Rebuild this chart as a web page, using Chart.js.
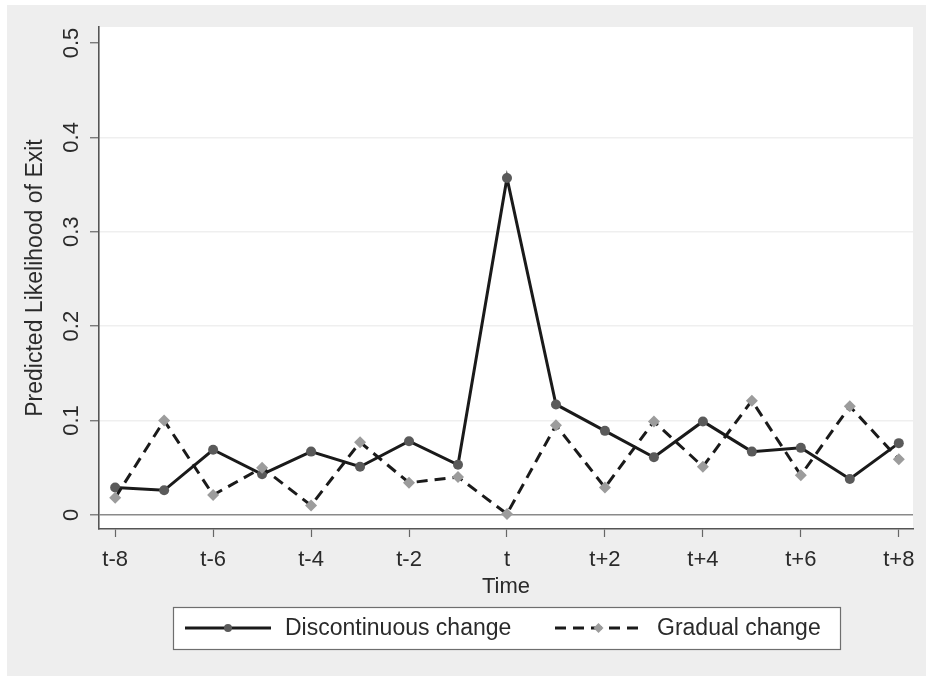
<!DOCTYPE html>
<html>
<head>
<meta charset="utf-8">
<script src="https://cdn.jsdelivr.net/npm/chart.js@4/dist/chart.umd.min.js"></script>
<style>
  html, body { margin: 0; padding: 0; background: #ffffff; }
  #wrap { width: 931px; height: 681px; position: relative; }
</style>
</head>
<body>
<div id="wrap"><canvas id="c" width="931" height="681"></canvas></div>
<script>
// ---- data ----
const categories = ["t-8","t-7","t-6","t-5","t-4","t-3","t-2","t-1","t","t+1","t+2","t+3","t+4","t+5","t+6","t+7","t+8"];
const discontinuous = [0.029,0.026,0.069,0.043,0.067,0.051,0.078,0.053,0.357,0.117,0.089,0.061,0.099,0.067,0.071,0.038,0.076];
const gradual       = [0.018,0.100,0.021,0.050,0.010,0.077,0.034,0.040,0.001,0.095,0.029,0.099,0.051,0.121,0.042,0.115,0.059];
const yTickValues = [0, 0.1, 0.2, 0.3, 0.4, 0.5];
const yTickLabels = ["0", "0.1", "0.2", "0.3", "0.4", "0.5"];
const xTickIndexes = [0, 2, 4, 6, 8, 10, 12, 14, 16];
const seriesNames = ["Discontinuous change", "Gradual change"];
const axisTitles = { x: "Time", y: "Predicted Likelihood of Exit" };

const FONT = "'Liberation Sans', Arial, Helvetica, sans-serif";
Chart.defaults.font.family = FONT;
Chart.defaults.color = '#2a2a2a';

const toPoints = arr => arr.map((v, i) => ({ x: i - 8, y: v }));

const bgPlugin = {
  id: 'bg',
  beforeDraw(chart) {
    const ctx = chart.ctx, a = chart.chartArea;
    ctx.save();
    ctx.fillStyle = '#ffffff';
    ctx.fillRect(0, 0, chart.width, chart.height);
    ctx.fillStyle = '#eeeeee';
    ctx.fillRect(7, 5, 919, 671);
    ctx.fillStyle = '#ffffff';
    ctx.fillRect(a.left, a.top, a.right - a.left, a.bottom - a.top);
    ctx.restore();
  },
  afterDraw(chart) {
    const ctx = chart.ctx;
    const ys = chart.scales.y;
    // rotated y tick labels
    ctx.save();
    ctx.fillStyle = '#2a2a2a';
    ctx.font = '22px ' + FONT;
    ctx.textAlign = 'center';
    ctx.textBaseline = 'middle';
    yTickValues.forEach((v, i) => {
      const py = ys.getPixelForValue(v);
      ctx.save();
      ctx.translate(72, py);
      ctx.rotate(-Math.PI / 2);
      ctx.fillText(yTickLabels[i], 0, 0);
      ctx.restore();
    });
    ctx.restore();

    // legend box
    const ds = chart.data.datasets;
    const bx = 173, by = 607, bw = 667, bh = 42;
    const cy = by + bh / 2;
    ctx.save();
    ctx.fillStyle = '#ffffff';
    ctx.fillRect(bx, by, bw, bh);
    ctx.strokeStyle = '#6e6e6e';
    ctx.lineWidth = 1.2;
    ctx.strokeRect(bx + 0.5, by + 0.5, bw, bh);

    const items = [
      { ds: ds[1], x0: 185, x1: 271, textX: 285 },
      { ds: ds[0], x0: 555, x1: 642, textX: 657 }
    ];
    items.forEach(it => {
      const d = it.ds;
      ctx.save();
      ctx.strokeStyle = d.borderColor;
      ctx.lineWidth = d.borderWidth;
      ctx.setLineDash(d.borderDash || []);
      ctx.beginPath();
      ctx.moveTo(it.x0, cy);
      ctx.lineTo(it.x1, cy);
      ctx.stroke();
      ctx.restore();
      ctx.save();
      ctx.fillStyle = d.pointBackgroundColor;
      ctx.beginPath();
      const mx = (it.x0 + it.x1) / 2;
      if (d.pointStyle === 'rectRot') {
        const r = 5;
        ctx.moveTo(mx, cy - r); ctx.lineTo(mx + r, cy); ctx.lineTo(mx, cy + r); ctx.lineTo(mx - r, cy); ctx.closePath();
      } else {
        ctx.arc(mx, cy, 4, 0, Math.PI * 2);
      }
      ctx.fill();
      ctx.restore();
      ctx.fillStyle = '#2a2a2a';
      ctx.font = '23px ' + FONT;
      ctx.textAlign = 'left';
      ctx.textBaseline = 'middle';
      ctx.fillText(d.label, it.textX, cy + 1);
    });
    ctx.restore();
  }
};

new Chart(document.getElementById('c'), {
  type: 'line',
  data: {
    datasets: [
      {
        label: seriesNames[1],
        data: toPoints(gradual),
        borderColor: '#1a1a1a',
        borderWidth: 3,
        borderDash: [11, 7],
        pointStyle: 'rectRot',
        pointRadius: 6,
        pointBackgroundColor: '#9c9c9c',
        pointBorderWidth: 0,
        tension: 0,
        order: 0
      },
      {
        label: seriesNames[0],
        data: toPoints(discontinuous),
        borderColor: '#1a1a1a',
        borderWidth: 3,
        pointStyle: 'circle',
        pointRadius: 5,
        pointBackgroundColor: '#5a5a5a',
        pointBorderWidth: 0,
        tension: 0,
        order: 1
      }
    ]
  },
  options: {
    responsive: false,
    animation: false,
    events: [],
    layout: { autoPadding: false, padding: { left: 22, top: 27, right: 18, bottom: 81 } },
    plugins: { legend: { display: false }, tooltip: { enabled: false } },
    scales: {
      x: {
        type: 'linear',
        min: -8.33,
        max: 8.29,
        afterBuildTicks(s) { s.ticks = xTickIndexes.map(i => ({ value: i - 8 })); },
        afterFit(s) { s.height = 71; },
        ticks: {
          font: { size: 22 },
          color: '#2a2a2a',
          padding: 10,
          maxRotation: 0,
          callback: v => categories[Math.round(v) + 8]
        },
        grid: { drawOnChartArea: false, tickLength: 8, tickColor: '#666666', tickWidth: 1.2 },
        border: { color: '#555555', width: 1.6 },
        title: { display: true, text: axisTitles.x, font: { size: 22 }, color: '#2a2a2a', padding: { top: 0, bottom: 0 } }
      },
      y: {
        type: 'linear',
        min: -0.015,
        max: 0.517,
        afterBuildTicks(s) { s.ticks = yTickValues.map(v => ({ value: v })); },
        afterFit(s) { s.width = 77; },
        ticks: { display: false },
        grid: {
          drawOnChartArea: true,
          tickLength: 9,
          tickColor: '#666666',
          tickWidth: 1.2,
          color: ctx => {
            const v = ctx.tick ? ctx.tick.value : null;
            if (v === 0) return '#8a8a8a';
            if (v === 0.5) return 'rgba(0,0,0,0)';
            return '#efefef';
          },
          lineWidth: ctx => (ctx.tick && ctx.tick.value === 0) ? 1.6 : 1.5
        },
        border: { color: '#555555', width: 1.6 },
        title: { display: true, text: axisTitles.y, font: { size: 23 }, color: '#2a2a2a', padding: { top: 0, bottom: 0 } }
      }
    }
  },
  plugins: [bgPlugin]
});
</script>
</body>
</html>
